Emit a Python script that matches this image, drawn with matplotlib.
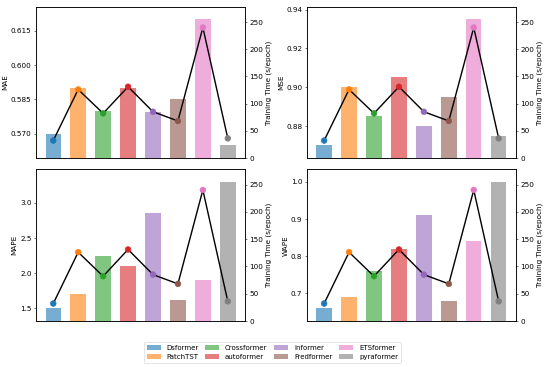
import matplotlib
matplotlib.use("Agg")
import matplotlib.pyplot as plt
from matplotlib.patches import Patch

models = ["Dsformer", "PatchTST", "Crossformer", "autoformer",
          "informer", "Fredformer", "ETSformer", "pyraformer"]
colors = ["tab:blue", "tab:orange", "tab:green", "tab:red",
          "tab:purple", "tab:brown", "tab:pink", "tab:gray"]

mae  = [0.570, 0.590, 0.580, 0.590, 0.5795, 0.585, 0.620, 0.565]
mse  = [0.870, 0.900, 0.885, 0.905, 0.880, 0.895, 0.935, 0.875]
mape = [1.50, 1.70, 2.25, 2.10, 2.85, 1.62, 1.90, 3.30]
wape = [0.66, 0.69, 0.76, 0.82, 0.91, 0.68, 0.84, 1.00]
train_time = [32, 126, 82, 131, 85, 68, 240, 36]

metrics = [
    ("MAE",  mae,  [0.570, 0.585, 0.600, 0.615], ["0.570", "0.585", "0.600", "0.615"]),
    ("MSE",  mse,  [0.88, 0.90, 0.92, 0.94],     ["0.88", "0.90", "0.92", "0.94"]),
    ("MAPE", mape, [1.5, 2.0, 2.5, 3.0],         ["1.5", "2.0", "2.5", "3.0"]),
    ("WAPE", wape, [0.7, 0.8, 0.9, 1.0],         ["0.7", "0.8", "0.9", "1.0"]),
]

plt.rcParams["font.size"] = 11.5
fig = plt.figure(figsize=(12, 8.01), dpi=550 / 12)
positions = [
    [0.0655, 0.5695, 0.380, 0.412],
    [0.5580, 0.5695, 0.380, 0.412],
    [0.0655, 0.1253, 0.380, 0.414],
    [0.5580, 0.1253, 0.380, 0.414],
]

x = list(range(len(models)))
for pos, (name, vals, ticks, labels) in zip(positions, metrics):
    ax = fig.add_axes(pos)
    ax.bar(x, vals, width=0.62, color=colors, alpha=0.6)
    rng = max(vals) - min(vals)
    ax.set_ylim(min(vals) - 0.1 * rng, max(vals) + 0.1 * rng)
    ax.set_yticks(ticks)
    ax.set_yticklabels(labels)
    ax.set_ylabel(name)
    ax.set_xticks([])
    for s in ax.spines.values():
        s.set_linewidth(1.3)

    ax2 = ax.twinx()
    ax2.plot(x, train_time, color="black", linewidth=2.2, zorder=2)
    ax2.scatter(x, train_time, c=colors, s=80, zorder=3)
    ax2.set_ylim(0, max(train_time) * 1.16)
    ax2.set_yticks([0, 50, 100, 150, 200, 250])
    ax2.set_ylabel("Training Time (s/epoch)")

handles = [Patch(facecolor=c, alpha=0.6, label=m) for m, c in zip(models, colors)]
fig.legend(handles=handles, loc="center", ncol=4, bbox_to_anchor=(0.495, 0.04),
           fontsize=11, columnspacing=1.0)

plt.savefig("out.png", dpi=550 / 12)
plt.close()
